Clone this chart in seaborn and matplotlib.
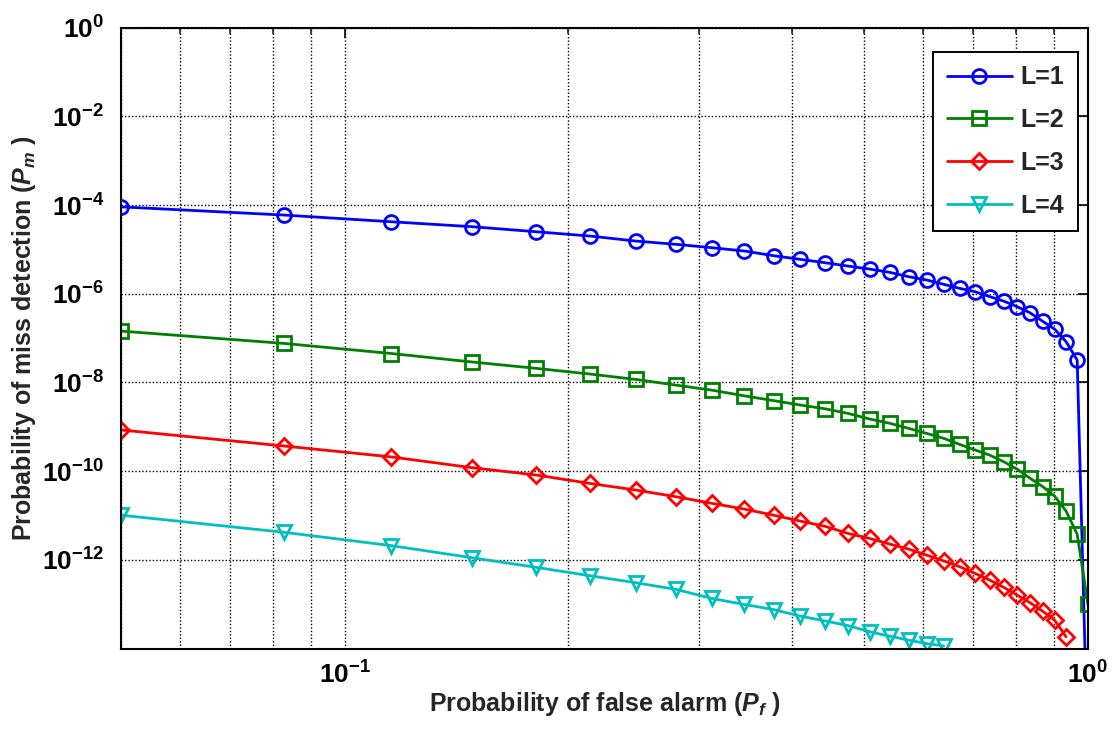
import math
import matplotlib
matplotlib.use("Agg")
import matplotlib.pyplot as plt
import seaborn as sns
from matplotlib.ticker import FixedLocator, FuncFormatter, LogLocator, NullLocator, NullFormatter

# ---- data ----
pf = [0.05, 0.0828, 0.1155, 0.1483, 0.1810, 0.2138, 0.2466, 0.2793, 0.3121, 0.3448,
      0.3776, 0.4103, 0.4431, 0.4759, 0.5086, 0.5414, 0.5741, 0.6069, 0.6397, 0.6724,
      0.7052, 0.7379, 0.7707, 0.8034, 0.8362, 0.8690, 0.9017, 0.9345, 0.9672, 1.0]

pm_L1 = [9.1e-5, 5.95e-5, 4.2e-5, 3.25e-5, 2.5e-5, 2.0e-5, 1.54e-5, 1.3e-5, 1.09e-5, 9.2e-6,
         7.2e-6, 5.96e-6, 5.0e-6, 4.2e-6, 3.6e-6, 3.03e-6, 2.42e-6, 2.04e-6, 1.63e-6, 1.32e-6,
         1.11e-6, 8.6e-7, 6.8e-7, 5.1e-7, 3.7e-7, 2.4e-7, 1.6e-7, 8.3e-8, 3.2e-8, 3e-17]
pm_L2 = [1.44e-7, 7.6e-8, 4.5e-8, 2.9e-8, 2.08e-8, 1.55e-8, 1.17e-8, 8.7e-9, 6.7e-9, 5.0e-9,
         3.9e-9, 3.1e-9, 2.55e-9, 2.0e-9, 1.5e-9, 1.2e-9, 9.2e-10, 7.1e-10, 5.5e-10, 4.0e-10,
         3.0e-10, 2.3e-10, 1.63e-10, 1.1e-10, 6.9e-11, 4.5e-11, 2.75e-11, 1.26e-11, 3.8e-12, 1.0e-13]
pm_L3 = [8.5e-10, 3.7e-10, 2.1e-10, 1.2e-10, 8.2e-11, 5.3e-11, 3.75e-11, 2.65e-11, 1.88e-11, 1.4e-11,
         1.02e-11, 7.5e-12, 5.7e-12, 3.95e-12, 3.05e-12, 2.27e-12, 1.75e-12, 1.28e-12, 9.5e-13, 7.0e-13,
         4.95e-13, 3.5e-13, 2.4e-13, 1.6e-13, 1.08e-13, 7.0e-14, 4.4e-14, 1.85e-14]
pm_L4 = [1.02e-11, 4.2e-12, 2.1e-12, 1.12e-12, 6.8e-13, 4.4e-13, 3.05e-13, 2.16e-13, 1.35e-13, 9.9e-14,
         7.6e-14, 5.4e-14, 4.2e-14, 3.3e-14, 2.4e-14, 1.9e-14, 1.55e-14, 1.3e-14, 1.15e-14]

series_labels = ["L=1", "L=2", "L=3", "L=4"]
y_ticks = [1e0, 1e-2, 1e-4, 1e-6, 1e-8, 1e-10, 1e-12, 1e-14]
x_ticks = [1e-1, 1e0]

# ---- style ----
sns.set_theme(style="white")
plt.rcParams["font.family"] = ["Liberation Sans", "DejaVu Sans"]
plt.rcParams["font.weight"] = "bold"
plt.rcParams["mathtext.fontset"] = "custom"
plt.rcParams["mathtext.rm"] = "Liberation Sans:bold"
plt.rcParams["mathtext.bf"] = "Liberation Sans:bold"
plt.rcParams["mathtext.it"] = "Liberation Sans:bold:italic"
plt.rcParams["mathtext.bfit"] = "Liberation Sans:bold:italic"
plt.rcParams["mathtext.sf"] = "Liberation Sans:bold"

colors = ["#0000ff", "#008000", "#ff0000", "#00bfbf"]
markers = ["o", "s", "D", "v"]
msizes = [10, 9.5, 8.5, 10.5]

fig = plt.figure(figsize=(11.13, 7.34), dpi=100)
ax = fig.add_axes([0.1087, 0.1163, 0.8688, 0.8461])
ax.set_xscale("log")
ax.set_yscale("log")

for yv, lab, c, m, ms in zip([pm_L1, pm_L2, pm_L3, pm_L4], series_labels, colors, markers, msizes):
    n = len(yv)
    sns.lineplot(x=pf[:n], y=yv, ax=ax, color=c, marker=m, markersize=ms,
                 mfc="none", mec=c, mew=2.0, lw=2.0, label=lab,
                 estimator=None, sort=False, legend=False)

ax.set_xlim(0.05, 1.0)
ax.set_ylim(1e-14, 1e0)

# ticks
ax.yaxis.set_major_locator(FixedLocator(y_ticks))
ax.yaxis.set_minor_locator(NullLocator())


def yfmt(v, pos):
    e = int(round(math.log10(v)))
    if e <= -14:
        return ""
    return r"$10^{%d}$" % e


def xfmt(v, pos):
    e = int(round(math.log10(v)))
    return r"$10^{%d}$" % e


ax.yaxis.set_major_formatter(FuncFormatter(yfmt))
ax.xaxis.set_major_locator(FixedLocator(x_ticks))
ax.xaxis.set_major_formatter(FuncFormatter(xfmt))
ax.xaxis.set_minor_locator(LogLocator(base=10, subs=[2, 3, 4, 5, 6, 7, 8, 9]))
ax.xaxis.set_minor_formatter(NullFormatter())

ax.tick_params(which="major", direction="in", length=7, width=1.2, top=True, right=True,
               labelsize=19, pad=9, colors="black")
ax.tick_params(which="minor", direction="in", length=4, width=1.2, top=True, right=True)
ax.tick_params(axis="y", which="major", pad=12)

ax.grid(which="major", linestyle=(0, (1, 1.5)), color="black", linewidth=1.0)
ax.grid(which="minor", axis="x", linestyle=(0, (1, 1.5)), color="black", linewidth=1.0)
ax.set_axisbelow(True)

for sp in ax.spines.values():
    sp.set_color("black")
    sp.set_linewidth(1.5)
    sp.set_visible(True)

ax.set_xlabel(r"Probability of false alarm ($P_f$ )", fontsize=18, fontweight="bold")
ax.set_ylabel(r"Probability of miss detection ($P_m$ )", fontsize=18, fontweight="bold")
ax.xaxis.set_label_coords(0.5, -0.067)
ax.yaxis.set_label_coords(-0.086, 0.5)

leg = ax.legend(ax.lines[:4], series_labels, loc="upper right", bbox_to_anchor=(0.9897, 0.9612),
                borderaxespad=0, fontsize=18, frameon=True, fancybox=False, framealpha=1,
                edgecolor="black", handlelength=2.6, handletextpad=0.35, labelspacing=0.75,
                borderpad=0.55)
leg._legend_box.sep = 0
leg.get_frame().set_linewidth(1.4)
for t in leg.get_texts():
    t.set_fontweight("bold")

# make the legend narrower horizontally by trimming side padding
leg.borderpad = 0.55
fig.canvas.draw()
bb = leg.get_window_extent()
fig.savefig("out.png", dpi=100, facecolor="white")
